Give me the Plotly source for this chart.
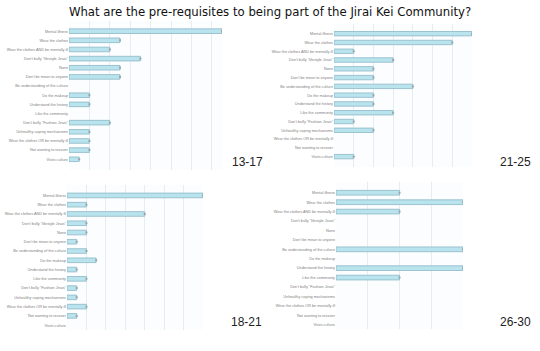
import plotly.graph_objects as go

categories = [
    "Mental illness",
    "Wear the clothes",
    "Wear the clothes AND be mentally ill",
    "Don't bully \"lifestyle Jirais\"",
    "None",
    "Don't be mean to anyone",
    "Be understanding of the culture",
    "Do the makeup",
    "Understand the history",
    "Like the community",
    "Don't bully \"Fashion Jirais\"",
    "Unhealthy coping mechanisms",
    "Wear the clothes OR be mentally ill",
    "Not wanting to recover",
    "Visits culture",
]

age_13_17 = [15, 5, 4, 7, 5, 5, 0, 2, 2, 0, 4, 2, 2, 2, 1]
age_21_25 = [7, 6, 1, 3, 2, 2, 4, 2, 2, 3, 1, 2, 0, 0, 1]
age_18_21 = [14, 2, 8, 2, 2, 1, 2, 3, 1, 2, 1, 1, 2, 1, 0]
age_26_30 = [1, 2, 1, 0, 0, 0, 2, 0, 2, 1, 0, 0, 0, 0, 0]

panels = [
    ("13-17", age_13_17, [69/540, 222/540], [0.5165, 0.941], 15, 2),
    ("21-25", age_21_25, [334/540, 472/540], [0.5248, 0.933], 7, 1),
    ("18-21", age_18_21, [67/540, 203/540], [0.0604, 0.4724], 14, 2),
    ("26-30", age_26_30, [336/540, 463/540], [0.0615, 0.4803], 2, 0.5),
]

fig = go.Figure()
layout = dict(
    width=540, height=351,
    margin=dict(l=0, r=0, t=0, b=0),
    paper_bgcolor="white", plot_bgcolor="#fbfdfe",
    showlegend=False,
    title=dict(text="What are the pre-requisites to being part of the Jirai Kei Community?",
               x=0.5, xanchor="center", y=0.966, yanchor="middle",
               font=dict(family="Liberation Sans Narrow, DejaVu Sans Condensed, sans-serif", size=13, color="#111")),
    annotations=[],
)

label_pos = {"13-17": (247, 162), "21-25": (515, 162), "18-21": (246, 322), "26-30": (515, 322)}

for i, (name, vals, xd, yd, xmax, dt) in enumerate(panels):
    n = "" if i == 0 else str(i + 1)
    xa, ya = "x" + n, "y" + n
    fig.add_trace(go.Bar(
        y=categories, x=vals, orientation="h", xaxis=xa, yaxis=ya,
        width=0.5,
        marker=dict(color="#b9e4ee",
                    line=dict(color="#8db8c6", width=[0.8 if v > 0 else 0 for v in vals])),
        hoverinfo="x+y",
    ))
    nz_x = [v for v in vals if v > 0]
    nz_y = [c for c, v in zip(categories, vals) if v > 0]
    fig.add_trace(go.Scatter(
        x=nz_x, y=nz_y, mode="markers", xaxis=xa, yaxis=ya,
        marker=dict(symbol="square", size=2, color="#9aa6ab"),
        hoverinfo="skip",
    ))
    layout["xaxis" + n] = dict(
        domain=xd, range=[0, xmax], dtick=dt, showticklabels=False,
        showgrid=True, gridcolor="#e6edf0", gridwidth=1, zeroline=False,
        showline=False, anchor=ya, fixedrange=True,
    )
    layout["yaxis" + n] = dict(
        domain=yd, categoryorder="array", categoryarray=categories,
        autorange="reversed", tickfont=dict(family="Liberation Sans Narrow, Liberation Sans, sans-serif", size=3.8, color="#808080"),
        showgrid=False, zeroline=False, showline=False, ticks="", ticklen=0,
        anchor=xa, automargin=False, fixedrange=True,
    )
    lx, ly = label_pos[name]
    layout["annotations"].append(dict(
        text=name, x=lx / 540, y=1 - ly / 351, xref="paper", yref="paper",
        showarrow=False, xanchor="center", yanchor="middle",
        font=dict(family="Liberation Sans, Arial, sans-serif", size=12, color="#222"),
    ))

fig.update_layout(**layout)
fig.write_html("out.html")
